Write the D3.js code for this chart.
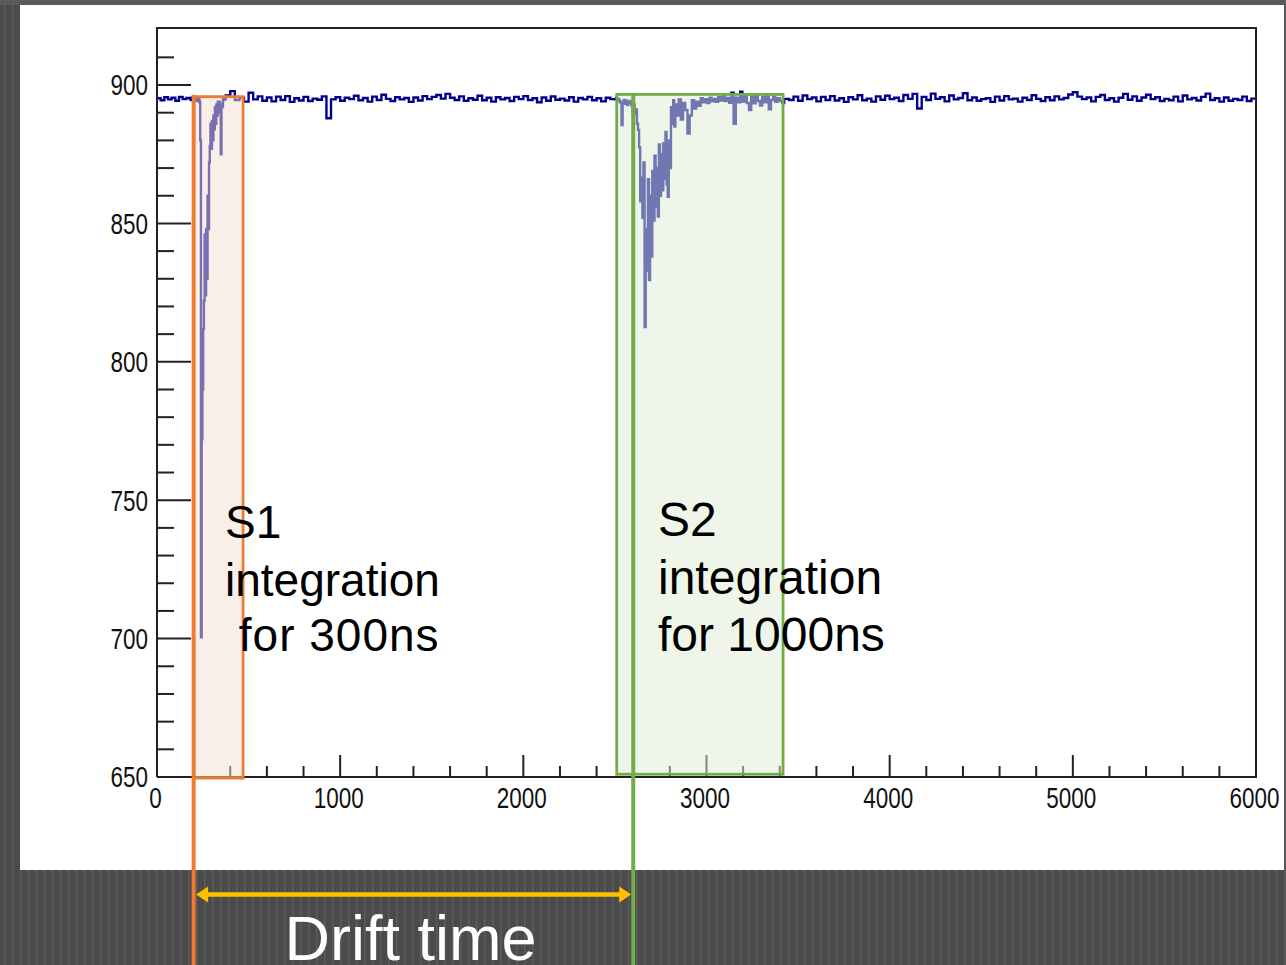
<!DOCTYPE html>
<html>
<head>
<meta charset="utf-8">
<script src="https://cdn.jsdelivr.net/npm/d3@7"></script>
<style>
  html, body { margin: 0; padding: 0; background: #4b4b4b; overflow: hidden; }
  svg { display: block; }
</style>
</head>
<body>
<svg id="chart" width="1286" height="965"></svg>
<script>
// ---------------- Waveform samples (ADC counts vs time in ns) ----------------
// Baseline before S1: start 0 ns, 20 ns per sample
const preStart = 0, preStep = 20;
const preValues = [895.2, 894.5, 895.6, 894.8, 895.4, 894.3, 895.7, 894.9, 895.3];

// S1 pulse region: start 180 ns, 4 ns per sample
const s1Start = 180, s1Step = 4;
const s1Values = [
  895.0, 894.6, 895.4, 894.8, 895.2, 894.5, 895.6, 894.9, 895.3, 894.2,
  895.0, 894.7, 895.1, 893.8, 880.0, 700.5, 772.0, 790.0, 812.0, 822.0,
  846.0, 824.0, 848.0, 830.0, 860.0, 848.0, 872.0, 878.0, 886.0, 877.0,
  887.0, 880.0, 889.0, 884.0, 892.0, 886.0, 893.0, 889.0, 894.0, 890.0,
  894.0, 891.0, 875.0, 893.0, 892.0, 895.4, 894.6, 895.2, 894.8
];

// Baseline between S1 and S2: start 375 ns, 25 ns per sample
const midStart = 375, midStep = 25;
const midValues = [
  896.2, 897.8, 894.6, 895.4, 894.0, 897.2, 894.8, 895.9, 894.3, 895.5,
  894.1, 895.8, 894.6, 896.0, 893.9, 895.2, 894.4, 895.7, 894.2, 895.1,
  894.7, 895.9, 888.0, 894.8, 895.6, 894.3, 895.4, 894.9, 896.1, 894.5,
  895.3, 894.0, 895.8, 894.6, 896.5, 895.0, 894.2, 895.6, 894.8, 895.3,
  893.9, 895.5, 894.4, 896.0, 894.9, 895.7, 896.4, 895.1, 896.8, 895.4,
  894.6, 895.9, 894.3, 895.2, 894.7, 896.1, 894.5, 895.4, 894.0, 895.6,
  894.8, 895.3, 894.2, 895.7, 894.9, 896.0, 894.6, 895.2, 893.8, 895.5,
  894.3, 895.9, 894.7, 895.1, 894.4, 895.6, 894.0, 895.3, 894.8, 895.7,
  894.5, 895.2, 894.1, 895.4, 894.9
];

// S2 pulse region: start 2500 ns, 6 ns per sample
const s2Start = 2500, s2Step = 6;
const s2Values = [
  894.8, 895.3, 894.5, 895.0, 894.2, 893.6, 885.5, 893.8, 894.6, 893.2,
  894.4, 892.8, 894.0, 893.4, 894.2, 892.6, 890.0, 893.0, 889.5, 891.2,
  886.0, 883.8, 877.5, 858.0, 866.5, 852.0, 872.0, 812.6, 848.0, 833.0,
  866.0, 829.5, 860.0, 838.0, 869.0, 851.0, 874.5, 856.0, 870.0, 852.5,
  878.5, 860.0, 875.0, 862.0, 879.0, 866.0, 883.0, 864.0, 859.6, 880.0,
  870.0, 892.0, 886.0, 894.5, 885.0, 893.0
];

// S2 tail: start 2836 ns, 12 ns per sample
const tailStart = 2836, tailStep = 12;
const tailValues = [
  889.0, 894.8, 887.5, 893.5, 891.0, 882.5, 889.0, 894.5, 891.5, 894.0,
  892.5, 895.2, 893.8, 894.9, 893.5, 895.4, 894.1, 895.0, 893.9, 895.6,
  894.4, 896.0, 894.2, 895.3, 893.6, 897.2, 886.0, 895.4, 893.8, 897.6,
  894.0, 896.2, 893.5, 891.0, 895.8, 893.4, 896.4, 894.2, 892.6, 895.6,
  893.8, 896.0, 891.2, 894.6, 895.8, 893.9, 895.2, 894.3, 893.5, 895.0
];

// Baseline after S2: start 3450 ns, 25 ns per sample
const postStart = 3450, postStep = 25;
const postValues = [
  894.6, 895.8, 894.3, 896.2, 894.9, 895.5, 894.1, 895.7, 894.6, 896.0,
  894.4, 895.2, 893.9, 895.6, 894.8, 896.3, 894.5, 895.1, 894.0, 895.9,
  894.7, 896.1, 894.9, 895.4, 894.2, 896.4, 895.0, 896.8, 891.5, 895.7,
  894.6, 896.9, 895.0, 895.6, 894.1, 896.2, 894.8, 895.3, 897.0, 894.5,
  895.5, 894.3, 894.9, 895.2, 893.9, 895.8, 894.4, 896.0, 894.8, 895.1,
  894.0, 895.4, 894.6, 896.3, 895.0, 894.2, 895.6, 894.5, 895.9, 894.8,
  895.3, 896.6, 897.4, 895.8, 894.9, 895.5, 894.1, 895.7, 896.4, 894.6,
  895.2, 894.0, 895.4, 896.8, 894.7, 895.9, 894.3, 895.5, 896.5, 894.9,
  895.6, 894.2, 895.0, 894.5, 895.8, 894.1, 896.2, 894.8, 895.3, 894.4,
  895.7, 896.9, 894.6, 895.2, 894.0, 895.5, 894.3, 895.0, 894.6, 895.8,
  894.2, 895.1, 894.7
];

// Integration windows [t0, t1] in ns and their ADC extent
const s1Window = [200, 470];
const s1Extent = [649.6, 895.8];
const s2Window = [2510, 3418];
const s2Extent = [651.0, 896.6];

// Drift-time markers (S1 start, S2 start) in ns
const driftMarks = [200, 2600];

// Axis ticks
const xMajorTicks = [0, 1000, 2000, 3000, 4000, 5000, 6000];
const xMinorTicks = d3.range(0, 6001, 200);
const yMajorTicks = [650, 700, 750, 800, 850, 900];
const yMinorTicks = d3.range(650, 911, 10);

// Annotation text
const s1Lines = ["S1", "integration", " for 300ns"];
const s2Lines = ["S2", "integration", "for 1000ns"];
const driftLabel = "Drift time";

// ---------------- Drawing ----------------
const W = 1286, H = 965;
const plot = { left: 157, right: 1256, top: 28, bottom: 777 };
const colors = {
  trace: "#00008f",
  orange: "#ED7D31",
  green: "#70AD47",
  gold: "#FFC000",
  axis: "#222222"
};

const svg = d3.select("#chart");
const defs = svg.append("defs");

// striped slide background
const pat = defs.append("pattern")
  .attr("id", "stripes").attr("patternUnits", "userSpaceOnUse")
  .attr("width", 8).attr("height", 8);
pat.append("rect").attr("width", 8).attr("height", 8).attr("fill", "#4b4b4b");
pat.append("rect").attr("x", 4).attr("width", 1.5).attr("height", 8).attr("fill", "#5c5c5c");

svg.append("rect").attr("width", W).attr("height", H).attr("fill", "url(#stripes)");
// lighter band along the top edge
svg.append("rect").attr("width", W).attr("height", 5).attr("fill", "#5e5e5e").attr("opacity", 0.8);

// white canvas
svg.append("rect").attr("x", 20).attr("y", 5).attr("width", 1264).attr("height", 865).attr("fill", "#ffffff");

defs.append("clipPath").attr("id", "plotClip")
  .append("rect")
  .attr("x", plot.left).attr("y", plot.top)
  .attr("width", plot.right - plot.left).attr("height", plot.bottom - plot.top);

const x = d3.scaleLinear().domain([0, 6000]).range([plot.left, plot.right]);
const y = d3.scaleLinear().domain([650, 920.6]).range([plot.bottom, plot.top]);

function segment(start, step, values) {
  return values.map((v, i) => ({ t: start + i * step, v }));
}
const samples = [].concat(
  segment(preStart, preStep, preValues),
  segment(s1Start, s1Step, s1Values),
  segment(midStart, midStep, midValues),
  segment(s2Start, s2Step, s2Values),
  segment(tailStart, tailStep, tailValues),
  segment(postStart, postStep, postValues)
);

const line = d3.line()
  .x(d => x(d.t))
  .y(d => y(d.v))
  .curve(d3.curveStepAfter);

svg.append("path")
  .datum(samples)
  .attr("clip-path", "url(#plotClip)")
  .attr("fill", "none")
  .attr("stroke", colors.trace)
  .attr("stroke-width", 2.4)
  .attr("stroke-linejoin", "miter")
  .attr("d", line);

// ---- axes (ticks point inward) ----
const axisG = svg.append("g").attr("stroke", colors.axis).attr("stroke-width", 2);
// frame
axisG.append("path")
  .attr("fill", "none")
  .attr("d", `M${plot.left},${plot.bottom}V${plot.top}H${plot.right}V${plot.bottom}H${plot.left}`);

axisG.append("g").selectAll("line").data(yMinorTicks).join("line")
  .attr("x1", plot.left).attr("x2", d => plot.left + (yMajorTicks.includes(d) ? 34 : 17))
  .attr("y1", d => y(d)).attr("y2", d => y(d));

axisG.append("g").selectAll("line").data(xMinorTicks).join("line")
  .attr("x1", d => x(d)).attr("x2", d => x(d))
  .attr("y1", plot.bottom).attr("y2", d => plot.bottom - (xMajorTicks.includes(d) ? 22 : 11));

const labelFont = "'Liberation Sans', Arial, Helvetica, sans-serif";
svg.append("g").selectAll("text").data(yMajorTicks).join("text")
  .attr("transform", d => `translate(148,${y(d) + 10.3}) scale(1,1.3)`)
  .attr("text-anchor", "end")
  .attr("font-family", labelFont).attr("font-size", 22.5)
  .attr("fill", "#111")
  .text(d => d);

svg.append("g").selectAll("text").data(xMajorTicks).join("text")
  .attr("transform", d => `translate(${x(d) - 1.5},808) scale(1,1.3)`)
  .attr("text-anchor", "middle")
  .attr("font-family", labelFont).attr("font-size", 22.5)
  .attr("fill", "#111")
  .text(d => d);

// ---- integration windows ----
svg.append("rect")
  .attr("x", x(s1Window[0])).attr("y", y(s1Extent[1]))
  .attr("width", x(s1Window[1]) - x(s1Window[0]))
  .attr("height", y(s1Extent[0]) - y(s1Extent[1]))
  .attr("fill", "#f4e0d3").attr("fill-opacity", 0.5)
  .attr("stroke", colors.orange).attr("stroke-width", 2.8);

svg.append("rect")
  .attr("x", x(s2Window[0])).attr("y", y(s2Extent[1]))
  .attr("width", x(s2Window[1]) - x(s2Window[0]))
  .attr("height", y(s2Extent[0]) - y(s2Extent[1]))
  .attr("fill", "#e0eed4").attr("fill-opacity", 0.5)
  .attr("stroke", colors.green).attr("stroke-width", 2.8);

// ---- drift-time marker lines ----
svg.append("line")
  .attr("x1", x(driftMarks[0])).attr("x2", x(driftMarks[0]))
  .attr("y1", y(s1Extent[1]) - 2).attr("y2", H)
  .attr("stroke", colors.orange).attr("stroke-width", 4);
svg.append("line")
  .attr("x1", x(driftMarks[1])).attr("x2", x(driftMarks[1]))
  .attr("y1", y(s2Extent[1]) - 1).attr("y2", H)
  .attr("stroke", colors.green).attr("stroke-width", 4);

// ---- drift-time arrow ----
const arrowY = 894.5;
const ax0 = x(driftMarks[0]) + 2.5, ax1 = x(driftMarks[1]) - 2;
const headL = 12, headH = 8;
svg.append("line")
  .attr("x1", ax0 + 6).attr("x2", ax1 - 6)
  .attr("y1", arrowY).attr("y2", arrowY)
  .attr("stroke", colors.gold).attr("stroke-width", 4.5);
svg.append("path")
  .attr("fill", colors.gold)
  .attr("d", `M${ax0},${arrowY}L${ax0 + headL},${arrowY - headH}L${ax0 + headL},${arrowY + headH}Z` +
             `M${ax1},${arrowY}L${ax1 - headL},${arrowY - headH}L${ax1 - headL},${arrowY + headH}Z`);

svg.append("text")
  .attr("x", (x(driftMarks[0]) + x(driftMarks[1])) / 2 - 3)
  .attr("y", 960)
  .attr("text-anchor", "middle")
  .attr("font-family", labelFont).attr("font-size", 63)
  .attr("fill", "#ffffff")
  .text(driftLabel);

// ---- window annotations ----
const annFont = "'Liberation Sans', Arial, Helvetica, sans-serif";
const s1Base = [538, 596, 651];
const s1Spacing = [0, 0, 1];
svg.append("g").selectAll("text").data(s1Lines).join("text")
  .attr("x", 225).attr("y", (d, i) => s1Base[i])
  .attr("xml:space", "preserve")
  .style("white-space", "pre")
  .attr("letter-spacing", (d, i) => s1Spacing[i])
  .attr("font-family", annFont).attr("font-size", 46)
  .attr("fill", "#000")
  .text(d => d);

const s2Base = [536, 594, 651];
svg.append("g").selectAll("text").data(s2Lines).join("text")
  .attr("x", 658).attr("y", (d, i) => s2Base[i])
  .attr("font-family", annFont).attr("font-size", 48)
  .attr("fill", "#000")
  .text(d => d);
</script>
</body>
</html>
